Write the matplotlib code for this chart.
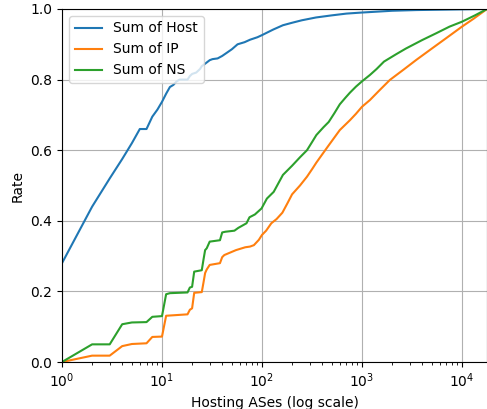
import numpy as np
import matplotlib
matplotlib.use("Agg")
import matplotlib.pyplot as plt

# CDF of hosting ASes
host_x = [1, 2, 3, 4, 5, 6, 7, 8, 9, 10, 11, 12, 13, 14, 15, 18, 19, 20, 22, 24,
          25, 27, 30, 32, 36, 40, 45, 50, 57, 67, 76, 90, 100, 130, 162, 200,
          250, 347, 500, 700, 1000, 2000, 3500, 10000, 17800]
host_y = [0.28, 0.44, 0.52, 0.575, 0.62, 0.66, 0.66, 0.695, 0.715, 0.737, 0.76,
          0.779, 0.785, 0.795, 0.80, 0.80, 0.81, 0.816, 0.82, 0.83, 0.838, 0.845,
          0.855, 0.858, 0.86, 0.867, 0.877, 0.886, 0.90, 0.906, 0.913, 0.92, 0.926,
          0.942, 0.954, 0.961, 0.968, 0.976, 0.982, 0.987, 0.99, 0.995, 0.997,
          0.999, 1.0]

ip_x = [1, 2, 3, 4, 5, 7, 8, 10, 11, 18, 19, 20, 21, 25, 26, 27, 28, 30, 38, 40,
        42, 55, 68, 76, 83, 93, 100, 110, 124, 140, 160, 180, 200, 240, 282, 320,
        350, 400, 460, 530, 600, 680, 758, 870, 1000, 1200, 1500, 1900, 2600,
        3500, 5000, 7000, 10000, 13000, 17800]
ip_y = [0.0, 0.018, 0.018, 0.045, 0.051, 0.053, 0.071, 0.072, 0.131, 0.135,
        0.148, 0.152, 0.196, 0.198, 0.225, 0.252, 0.262, 0.275, 0.28, 0.297,
        0.303, 0.317, 0.325, 0.327, 0.331, 0.346, 0.36, 0.372, 0.393, 0.405,
        0.423, 0.45, 0.475, 0.5, 0.525, 0.548, 0.565, 0.588, 0.612, 0.636, 0.657,
        0.672, 0.685, 0.703, 0.723, 0.742, 0.77, 0.799, 0.828, 0.856, 0.888,
        0.918, 0.95, 0.972, 1.0]

ns_x = [1, 2, 3, 4, 5, 7, 8, 10, 11, 12, 18, 19, 20, 21, 25, 26, 27, 28, 30, 38,
        40, 43, 53, 58, 70, 75, 85, 99, 112, 131, 145, 162, 200, 240, 282, 320,
        350, 412, 465, 530, 600, 680, 758, 870, 1000, 1200, 1400, 1660, 2200,
        2750, 4000, 5500, 7500, 10000, 13500, 17800]
ns_y = [0.0, 0.05, 0.05, 0.107, 0.112, 0.113, 0.128, 0.13, 0.192, 0.195, 0.197,
        0.211, 0.213, 0.256, 0.26, 0.29, 0.317, 0.322, 0.341, 0.345, 0.367,
        0.369, 0.372, 0.38, 0.393, 0.41, 0.418, 0.435, 0.463, 0.482, 0.505, 0.53,
        0.556, 0.58, 0.60, 0.625, 0.643, 0.665, 0.68, 0.705, 0.73, 0.748, 0.763,
        0.78, 0.795, 0.813, 0.83, 0.851, 0.872, 0.888, 0.912, 0.931, 0.95,
        0.964, 0.982, 1.0]

fig = plt.figure(figsize=(4.87, 4.09), dpi=100)
ax = fig.add_axes([62 / 487, 47 / 409, 425 / 487, 353 / 409])

ax.plot(host_x, host_y, label="Sum of Host")
ax.plot(ip_x, ip_y, label="Sum of IP")
ax.plot(ns_x, ns_y, label="Sum of NS")

ax.set_xscale("log")
ax.set_xlim(1, 17800)
ax.set_ylim(0, 1)
ax.grid(True)
ax.set_xlabel("Hosting ASes (log scale)")
ax.set_ylabel("Rate")
ax.legend(loc="upper left")

fig.savefig("out.png", dpi=100)
